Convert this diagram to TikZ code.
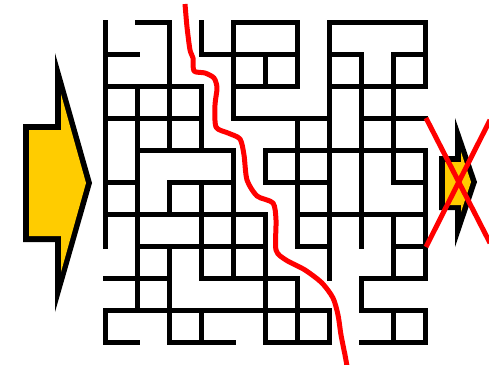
\documentclass[tikz,border=0pt]{standalone}
\begin{document}
\begin{tikzpicture}[x=1pt,y=-1pt,
  wall/.style={line width=5pt,line cap=rect,line join=miter,black},
  redline/.style={line width=5pt,red,line cap=butt,line join=round},
  arrowfill/.style={fill={rgb,255:red,255;green,204;blue,0}}]
\fill[white] (0,0) rectangle (489,364);
\useasboundingbox (0,0) rectangle (489,364);
% maze walls: horizontal (row / from col / to col)
\foreach \r/\a/\b in {0/1/2, 0/4/6, 0/7/10, 1/0/1, 1/3/6, 1/7/8, 1/9/10,
  2/0/3, 2/4/6, 2/7/10, 3/0/3, 3/4/7, 3/8/10, 4/1/4, 4/5/10,
  5/0/1, 5/2/4, 5/5/7, 5/9/10, 6/0/5, 6/6/10, 7/1/5, 7/6/7, 7/9/10,
  8/0/2, 8/3/6, 8/8/10, 9/0/7, 9/8/10, 10/0/1, 10/2/4, 10/5/7, 10/8/10}
  \draw[wall] ({105+32*\a},{22+32*\r}) -- ({105+32*\b},{22+32*\r});
% maze walls: vertical (col / from row / to row)
\foreach \c/\a/\b in {0/0/7, 0/9/10, 1/2/9, 2/0/4, 2/5/6, 2/7/10,
  3/0/1, 3/2/4, 3/5/8, 3/9/10, 4/0/3, 4/4/8, 5/1/2, 5/4/5, 5/6/10,
  6/0/2, 6/3/7, 6/8/10, 7/0/8, 7/9/10, 8/1/7, 8/8/9, 9/1/5, 9/6/8, 9/9/10,
  10/0/2, 10/4/8, 10/9/10}
  \draw[wall] ({105+32*\c},{22+32*\a}) -- ({105+32*\c},{22+32*\b});
% red dividing line
\draw[redline] plot[smooth,tension=0.45] coordinates {(185,4) (187,27) (190,50) (193,58)
  (194,71) (205,73) (214,78) (217,88) (215,105) (216,127) (228,133) (240,139)
  (244,155) (247,180) (257,196) (273,203) (276,220) (276,250) (286,260)
  (305,270) (322,283) (333,298) (338,315) (341,335) (345,355) (347,366)};
% left entrance arrow
\fill[black] (23,124) -- (55,124) -- (55,53) -- (92,183) -- (55,312) -- (55,242) -- (23,242) -- cycle;
\fill[arrowfill] (29,130) -- (61,130) -- (61,94) -- (86,183) -- (61,272) -- (61,236) -- (29,236) -- cycle;
% right exit arrow
\fill[black] (439,156) -- (455,156) -- (455,118) -- (477,182) -- (455,247) -- (455,210) -- (439,210) -- cycle;
\fill[arrowfill] (445,162) -- (461,162) -- (461,152) -- (471,182) -- (461,212) -- (461,205) -- (445,205) -- cycle;
% red cross
\draw[redline] (426,118) -- (490,243);
\draw[redline] (426,247) -- (490,120);
\end{tikzpicture}
\end{document}
